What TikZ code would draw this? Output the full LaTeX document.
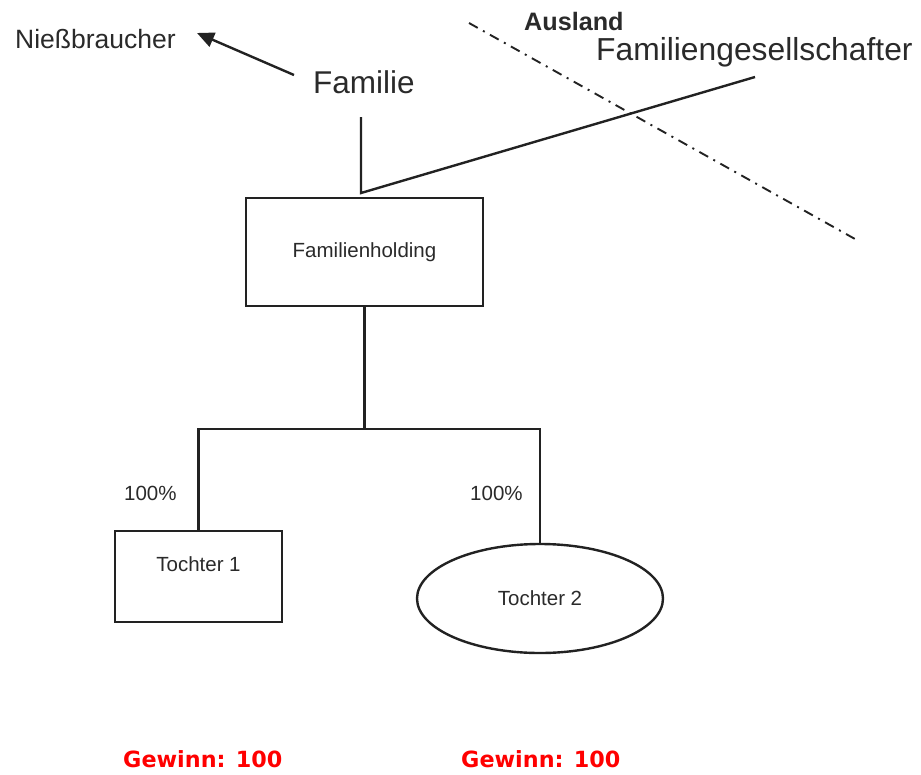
\documentclass[tikz,border=0pt]{standalone}
\usepackage{fontspec}
\setmainfont{Liberation Sans}
\newfontfamily\gewinnfont{DejaVu Sans}
\usetikzlibrary{arrows.meta,shapes.geometric}

\definecolor{ink}{HTML}{222222}
\definecolor{txt}{HTML}{2A2A2A}
\definecolor{gewinnred}{HTML}{FF0000}

\tikzset{
  lbl/.style={inner sep=0pt, anchor=base west, text=txt},
  boxnode/.style={draw=ink, line width=2.4pt, rectangle, inner sep=0pt,
                  text=txt, font=\fontsize{20.5}{24}\selectfont},
  link/.style={draw=ink, line width=2.4pt},
  border/.style={draw=ink, line width=1.9pt, dash pattern=on 10pt off 6pt on 2pt off 6pt},
  gewinn/.style={inner sep=0pt, anchor=base west, text=gewinnred,
                 font=\gewinnfont\bfseries\fontsize{22.3}{26}\selectfont},
}

\begin{document}
\begin{tikzpicture}[x=1pt, y=-1pt]
  \useasboundingbox (0,0) rectangle (921,774);

  % top labels
  \node[lbl, font=\fontsize{26.5}{30}\selectfont] (niess) at (15,48) {Nießbraucher};
  \node[lbl, font=\fontsize{31.5}{36}\selectfont] (familie) at (313,93) {Familie};
  \node[lbl, font=\bfseries\fontsize{25.2}{28}\selectfont] (ausland) at (524,30) {Ausland};
  \node[lbl, font=\fontsize{31.8}{36}\selectfont] (gesell) at (596,60) {Familiengesellschafter};

  % boxes
  \node[boxnode, minimum width=237pt, minimum height=108pt] (holding) at (364.5,252) {Familienholding};
  \node[boxnode, minimum width=167pt, minimum height=91pt,
        text height=15pt, text depth=26pt] (t1) at (198.5,576.5) {Tochter 1};
  \node[boxnode, ellipse, minimum width=246pt, minimum height=109pt] (t2) at (540,598.5) {Tochter 2};

  % shares
  \node[lbl, font=\fontsize{20.5}{24}\selectfont] (p1) at (124,500) {100\%};
  \node[lbl, font=\fontsize{20.5}{24}\selectfont] (p2) at (470,500) {100\%};

  % profits
  \node[gewinn] (g1) at (123,767) {Gewinn: 100};
  \node[gewinn] (g2) at (461,767) {Gewinn: 100};

  % helper points
  \coordinate (arrowTail) at (294,75);
  \coordinate (arrowTip) at (197,33);
  \coordinate (famFoot) at (361,117);
  \coordinate (join) at (361,193);
  \coordinate (gesEnd) at (755,77);
  \coordinate (borderA) at (469,23);
  \coordinate (borderB) at (855,239);
  \coordinate (bus) at (holding.south |- 0,429);

  % Familie -> Niessbraucher
  \draw[link, -{Triangle[length=17pt,width=15pt]}] (arrowTail) -- (arrowTip);

  % shareholders into the holding
  \draw[link] (famFoot) -- (join) -- (gesEnd);

  % border line
  \draw[border] (borderA) -- (borderB);

  % holding to subsidiaries
  \draw[link] (holding.south) -- (bus);
  \draw[link] (t1.north) |- (bus) -| (t2.north);
\end{tikzpicture}
\end{document}
